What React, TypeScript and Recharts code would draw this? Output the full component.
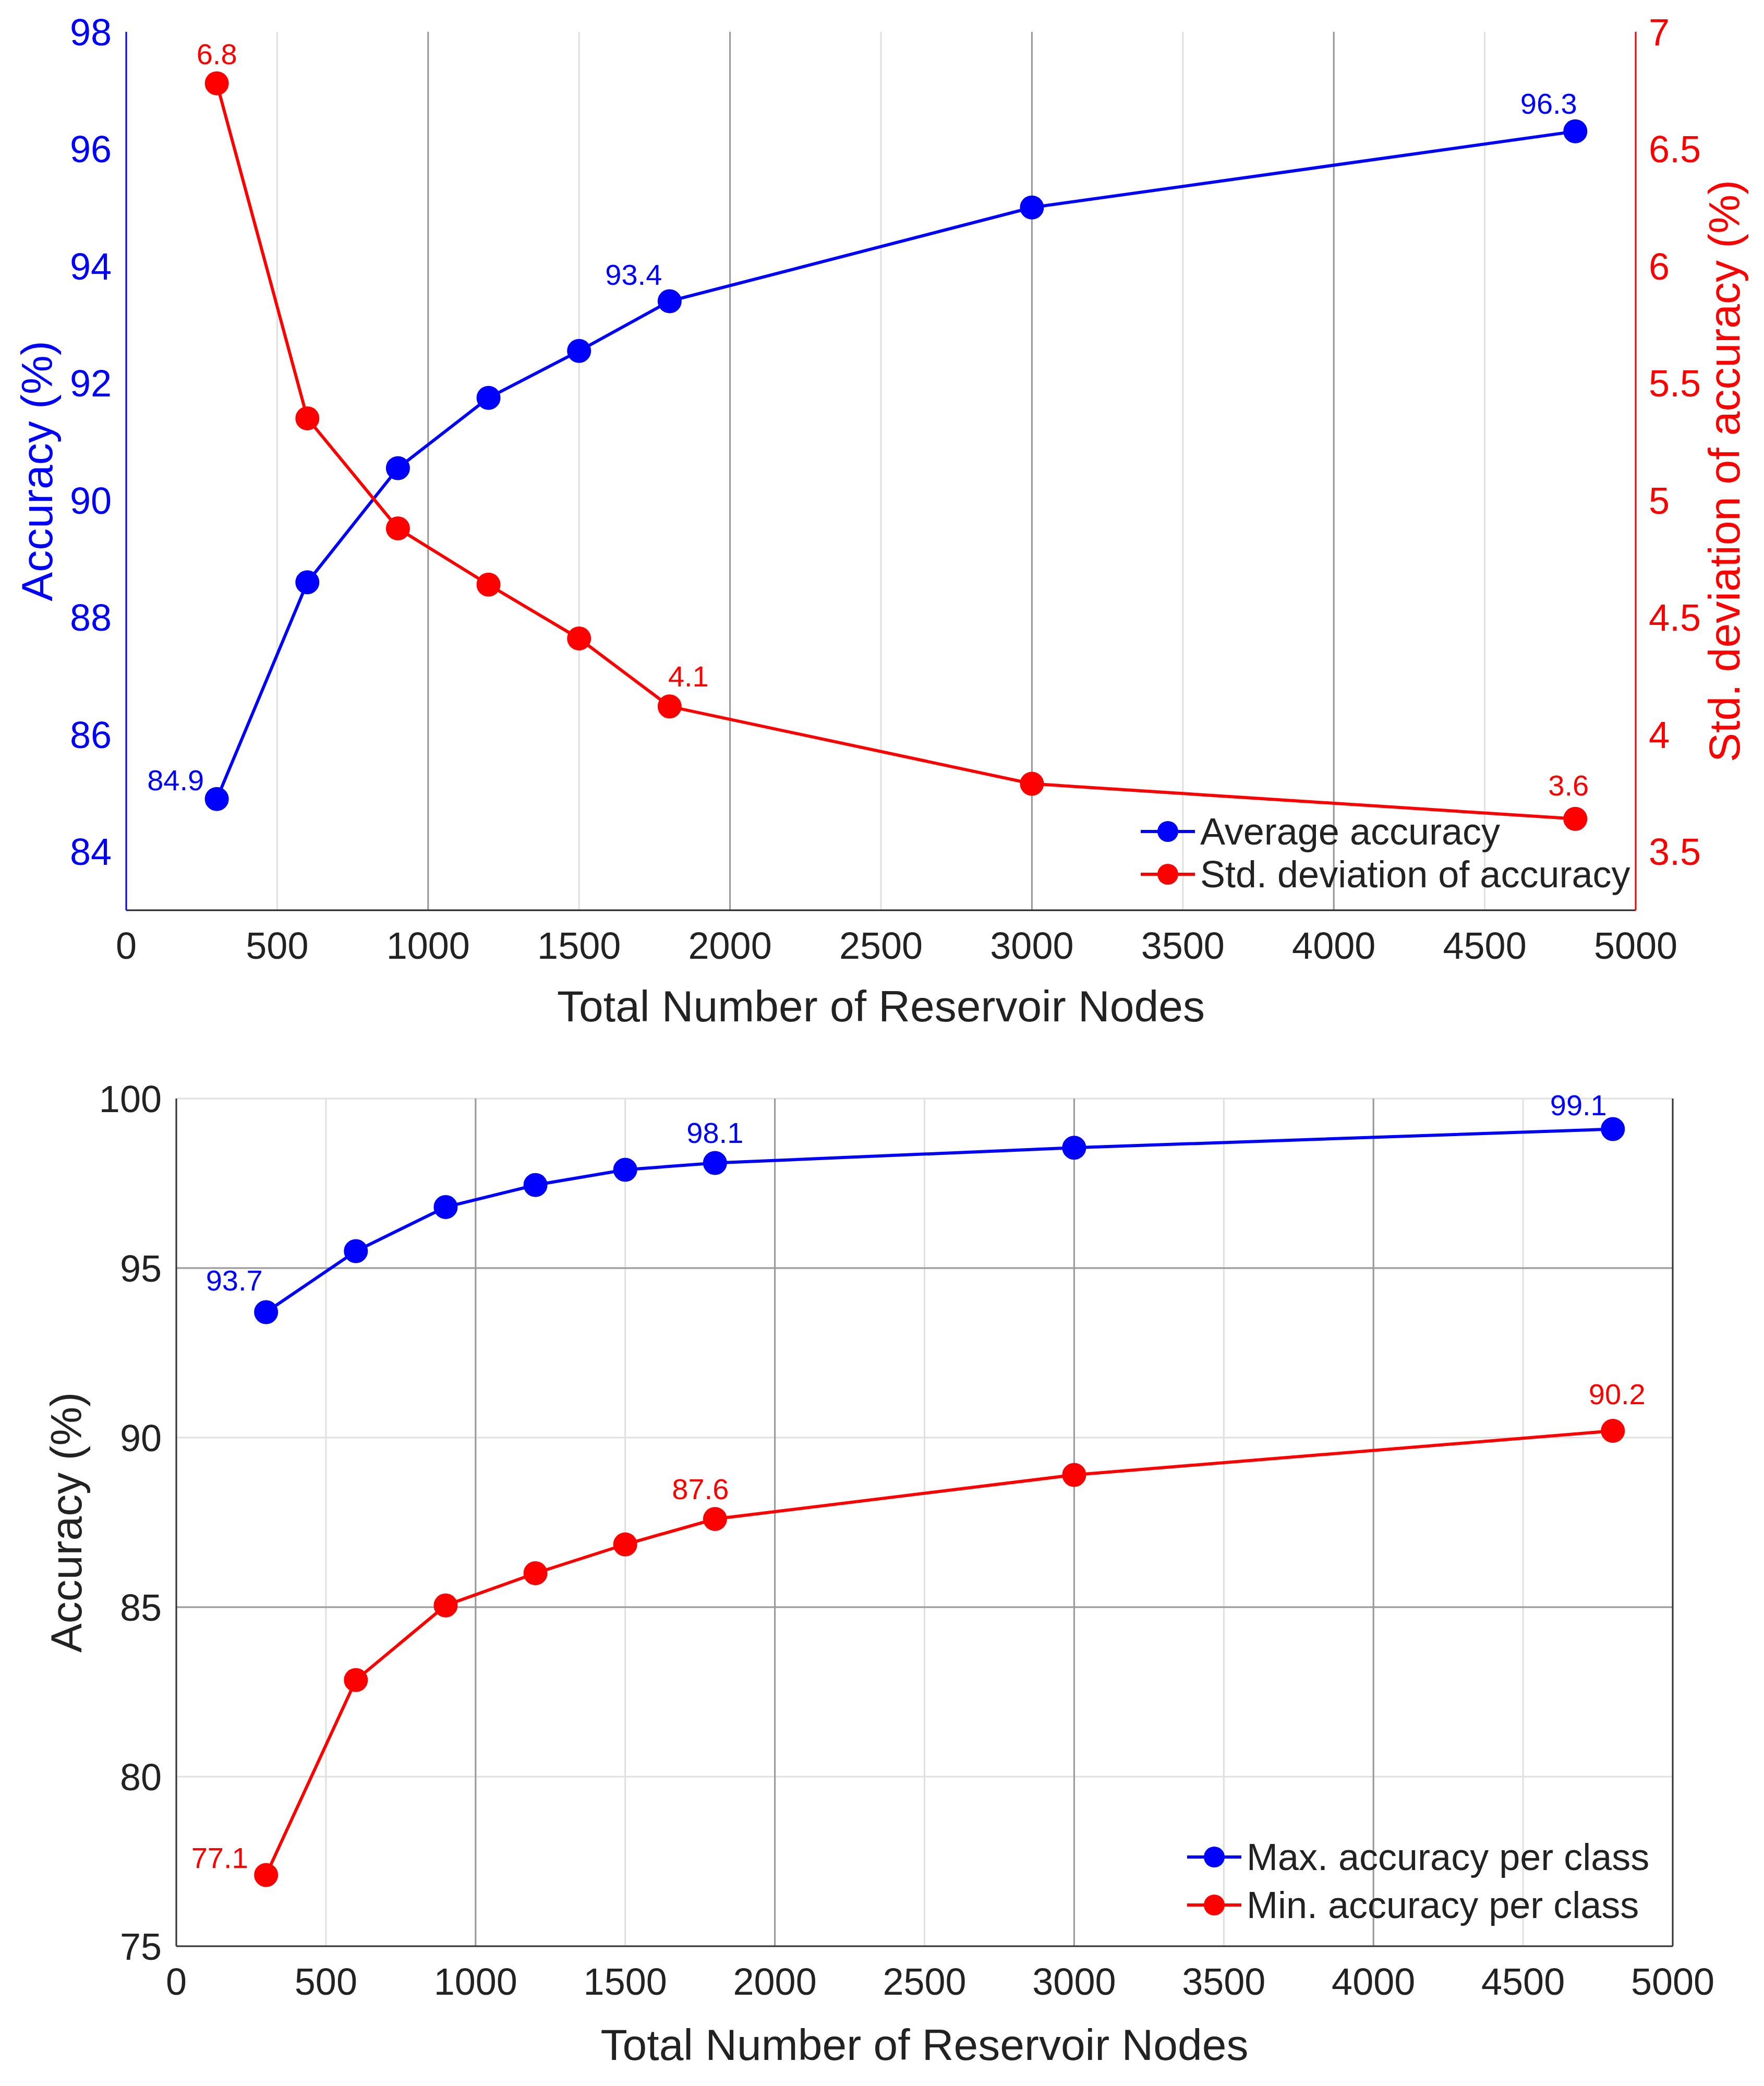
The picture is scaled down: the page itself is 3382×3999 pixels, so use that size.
import React from 'react';
import { LineChart, Line, XAxis, YAxis, CartesianGrid, ReferenceLine, LabelList, Label } from 'recharts';

const nodes = [300, 600, 900, 1200, 1500, 1800, 3000, 4800];
const avgAcc = [84.9, 88.6, 90.55, 91.75, 92.55, 93.4, 95.0, 96.3];
const stdAcc = [6.78, 5.35, 4.88, 4.64, 4.41, 4.12, 3.79, 3.64];
const maxAcc = [93.7, 95.5, 96.8, 97.45, 97.9, 98.1, 98.55, 99.1];
const minAcc = [77.1, 82.85, 85.05, 86.0, 86.85, 87.6, 88.9, 90.2];
const avgLabels = ['84.9', '', '', '', '', '93.4', '', '96.3'];
const stdLabels = ['6.8', '', '', '', '', '4.1', '', '3.6'];
const maxLabels = ['93.7', '', '', '', '', '98.1', '', '99.1'];
const minLabels = ['77.1', '', '', '', '', '87.6', '', '90.2'];
const xTicks = [0, 500, 1000, 1500, 2000, 2500, 3000, 3500, 4000, 4500, 5000];
const topLeftTicks = [84, 86, 88, 90, 92, 94, 96, 98];
const topRightTicks = [3.5, 4, 4.5, 5, 5.5, 6, 6.5, 7];
const bottomTicks = [75, 80, 85, 90, 95, 100];

const topData = nodes.map((n, i) => ({ n, avg: avgAcc[i], std: stdAcc[i] }));
const bottomData = nodes.map((n, i) => ({ n, max: maxAcc[i], min: minAcc[i] }));

const FONT = 'Liberation Sans, Arial, sans-serif';
const BLUE = '#0000ff';
const RED = '#ff0000';
const TICK = 72;
const TITLE = 84;

const offsets: Record<string, Record<number, [number, number]>> = {
  avg: { 0: [-79, -36], 5: [-69, -51], 7: [-51, -53] },
  std: { 0: [0, -56], 5: [36, -58], 7: [-13, -64] },
  max: { 0: [-61, -61], 5: [0, -58], 7: [-66, -46] },
  min: { 0: [-89, -33], 5: [-28, -58], 7: [8, -71] },
};

const makeLabel = (labels: string[], key: string, color: string) => (props: any) => {
  const { x, y, index } = props;
  const t = labels[index];
  if (!t) return null;
  const o = offsets[key][index] || [0, -50];
  return (
    <text x={x + o[0]} y={y + o[1]} fill={color} fontSize={56} fontFamily={FONT} textAnchor="middle" dominantBaseline="central">
      {t}
    </text>
  );
};

const LegendBox = ({ items, left, top, gap }: { items: { label: string; color: string }[]; left: number; top: number; gap: number }) => (
  <div style={{ position: 'absolute', left, top, fontFamily: FONT, fontSize: 72, color: '#222', lineHeight: 1 }}>
    {items.map((it) => (
      <div key={it.label} style={{ display: 'flex', alignItems: 'center', height: gap }}>
        <svg width={104} height={50} style={{ marginRight: 10 }}>
          <line x1={0} y1={25} x2={104} y2={25} stroke={it.color} strokeWidth={6} />
          <circle cx={52} cy={25} r={20} fill={it.color} />
        </svg>
        <span>{it.label}</span>
      </div>
    ))}
  </div>
);

const vLabel = (text: string, dx: number, color: string, fs: number) => (props: any) => {
  const vb = props.viewBox;
  const cx = vb.x + dx;
  const cy = vb.y + vb.height / 2;
  return (
    <text x={cx} y={cy} fill={color} fontSize={fs} fontFamily={FONT} textAnchor="middle" dominantBaseline="central" transform={`rotate(-90 ${cx} ${cy})`}>
      {text}
    </text>
  );
};

const darkV = [1000, 2000, 3000, 4000];

export default function App() {
  return (
    <div style={{ position: 'absolute', left: 0, top: 0, width: 3382, height: 3999, background: '#fff' }}>
      <div style={{ position: 'absolute', left: 0, top: 0 }}>
        <LineChart width={3382} height={2000} data={topData} margin={{ top: 61, right: 0, left: 0, bottom: 0 }}>
          <CartesianGrid stroke="#e0e0e0" strokeWidth={3} horizontalValues={topLeftTicks} verticalValues={xTicks} />
          {darkV.map((v) => (
            <ReferenceLine key={v} x={v} yAxisId="l" stroke="#999" strokeWidth={3} />
          ))}
          <XAxis dataKey="n" type="number" domain={[0, 5000]} ticks={xTicks} height={255} tickSize={0} tickMargin={42}
            stroke="#222" strokeWidth={3} tick={{ fill: '#222', fontSize: TICK, fontFamily: FONT }}>
            <Label value="Total Number of Reservoir Nodes" position="insideBottom" offset={42} fill="#222" fontSize={TITLE} fontFamily={FONT} />
          </XAxis>
          <XAxis xAxisId="top" orientation="top" type="number" domain={[0, 5000]} height={0} tick={false} tickSize={0} stroke="#222" strokeWidth={3} />
          <YAxis yAxisId="l" domain={[83, 98]} ticks={topLeftTicks} width={242} tickSize={0} tickMargin={28}
            stroke={BLUE} strokeWidth={3} tick={{ fill: BLUE, fontSize: TICK, fontFamily: FONT }} label={{ content: vLabel('Accuracy (%)', 71, BLUE, TITLE) }} />
          <YAxis yAxisId="r" orientation="right" domain={[3.25, 7]} ticks={topRightTicks} width={246} tickSize={0} tickMargin={25}
            stroke={RED} strokeWidth={3} tick={{ fill: RED, fontSize: TICK, fontFamily: FONT, textAnchor: 'start' }} label={{ content: vLabel('Std. deviation of accuracy (%)', 170, RED, TITLE) }} />
          <Line yAxisId="l" dataKey="avg" stroke={BLUE} strokeWidth={6} dot={{ r: 20, fill: BLUE, stroke: BLUE }} isAnimationActive={false}>
            <LabelList dataKey="avg" content={makeLabel(avgLabels, 'avg', BLUE)} />
          </Line>
          <Line yAxisId="r" dataKey="std" stroke={RED} strokeWidth={6} dot={{ r: 20, fill: RED, stroke: RED }} isAnimationActive={false}>
            <LabelList dataKey="std" content={makeLabel(stdLabels, 'std', RED)} />
          </Line>
        </LineChart>
        <LegendBox items={[{ label: 'Average accuracy', color: BLUE }, { label: 'Std. deviation of accuracy', color: RED }]} left={2187} top={1553} gap={82} />
      </div>
      <div style={{ position: 'absolute', left: 0, top: 2000 }}>
        <LineChart width={3382} height={1999} data={bottomData} margin={{ top: 106, right: 0, left: 0, bottom: 0 }}>
          <CartesianGrid stroke="#e0e0e0" strokeWidth={3} horizontalValues={bottomTicks} verticalValues={xTicks} />
          {darkV.map((v) => (
            <ReferenceLine key={v} x={v} stroke="#999" strokeWidth={3} />
          ))}
          {[85, 95].map((v) => (
            <ReferenceLine key={v} y={v} stroke="#999" strokeWidth={3} />
          ))}
          <XAxis dataKey="n" type="number" domain={[0, 5000]} ticks={xTicks} height={268} tickSize={0} tickMargin={42}
            stroke="#333" strokeWidth={3} tick={{ fill: '#222', fontSize: TICK, fontFamily: FONT }}>
            <Label value="Total Number of Reservoir Nodes" position="insideBottom" offset={50} fill="#222" fontSize={TITLE} fontFamily={FONT} />
          </XAxis>
          <XAxis xAxisId="top" orientation="top" type="number" domain={[0, 5000]} height={0} tick={false} tickSize={0} stroke="#333" strokeWidth={3} />
          <YAxis domain={[75, 100]} ticks={bottomTicks} width={338} tickSize={0} tickMargin={28}
            stroke="#333" strokeWidth={3} tick={{ fill: '#222', fontSize: TICK, fontFamily: FONT }} label={{ content: vLabel('Accuracy (%)', 127, '#222', TITLE) }} />
          <YAxis yAxisId="r2" orientation="right" domain={[75, 100]} width={175} tick={false} tickSize={0} stroke="#333" strokeWidth={3} />
          <Line dataKey="max" stroke={BLUE} strokeWidth={6} dot={{ r: 20, fill: BLUE, stroke: BLUE }} isAnimationActive={false}>
            <LabelList dataKey="max" content={makeLabel(maxLabels, 'max', BLUE)} />
          </Line>
          <Line dataKey="min" stroke={RED} strokeWidth={6} dot={{ r: 20, fill: RED, stroke: RED }} isAnimationActive={false}>
            <LabelList dataKey="min" content={makeLabel(minLabels, 'min', RED)} />
          </Line>
        </LineChart>
        <LegendBox items={[{ label: 'Max. accuracy per class', color: BLUE }, { label: 'Min. accuracy per class', color: RED }]} left={2276} top={1514} gap={92} />
      </div>
    </div>
  );
}
